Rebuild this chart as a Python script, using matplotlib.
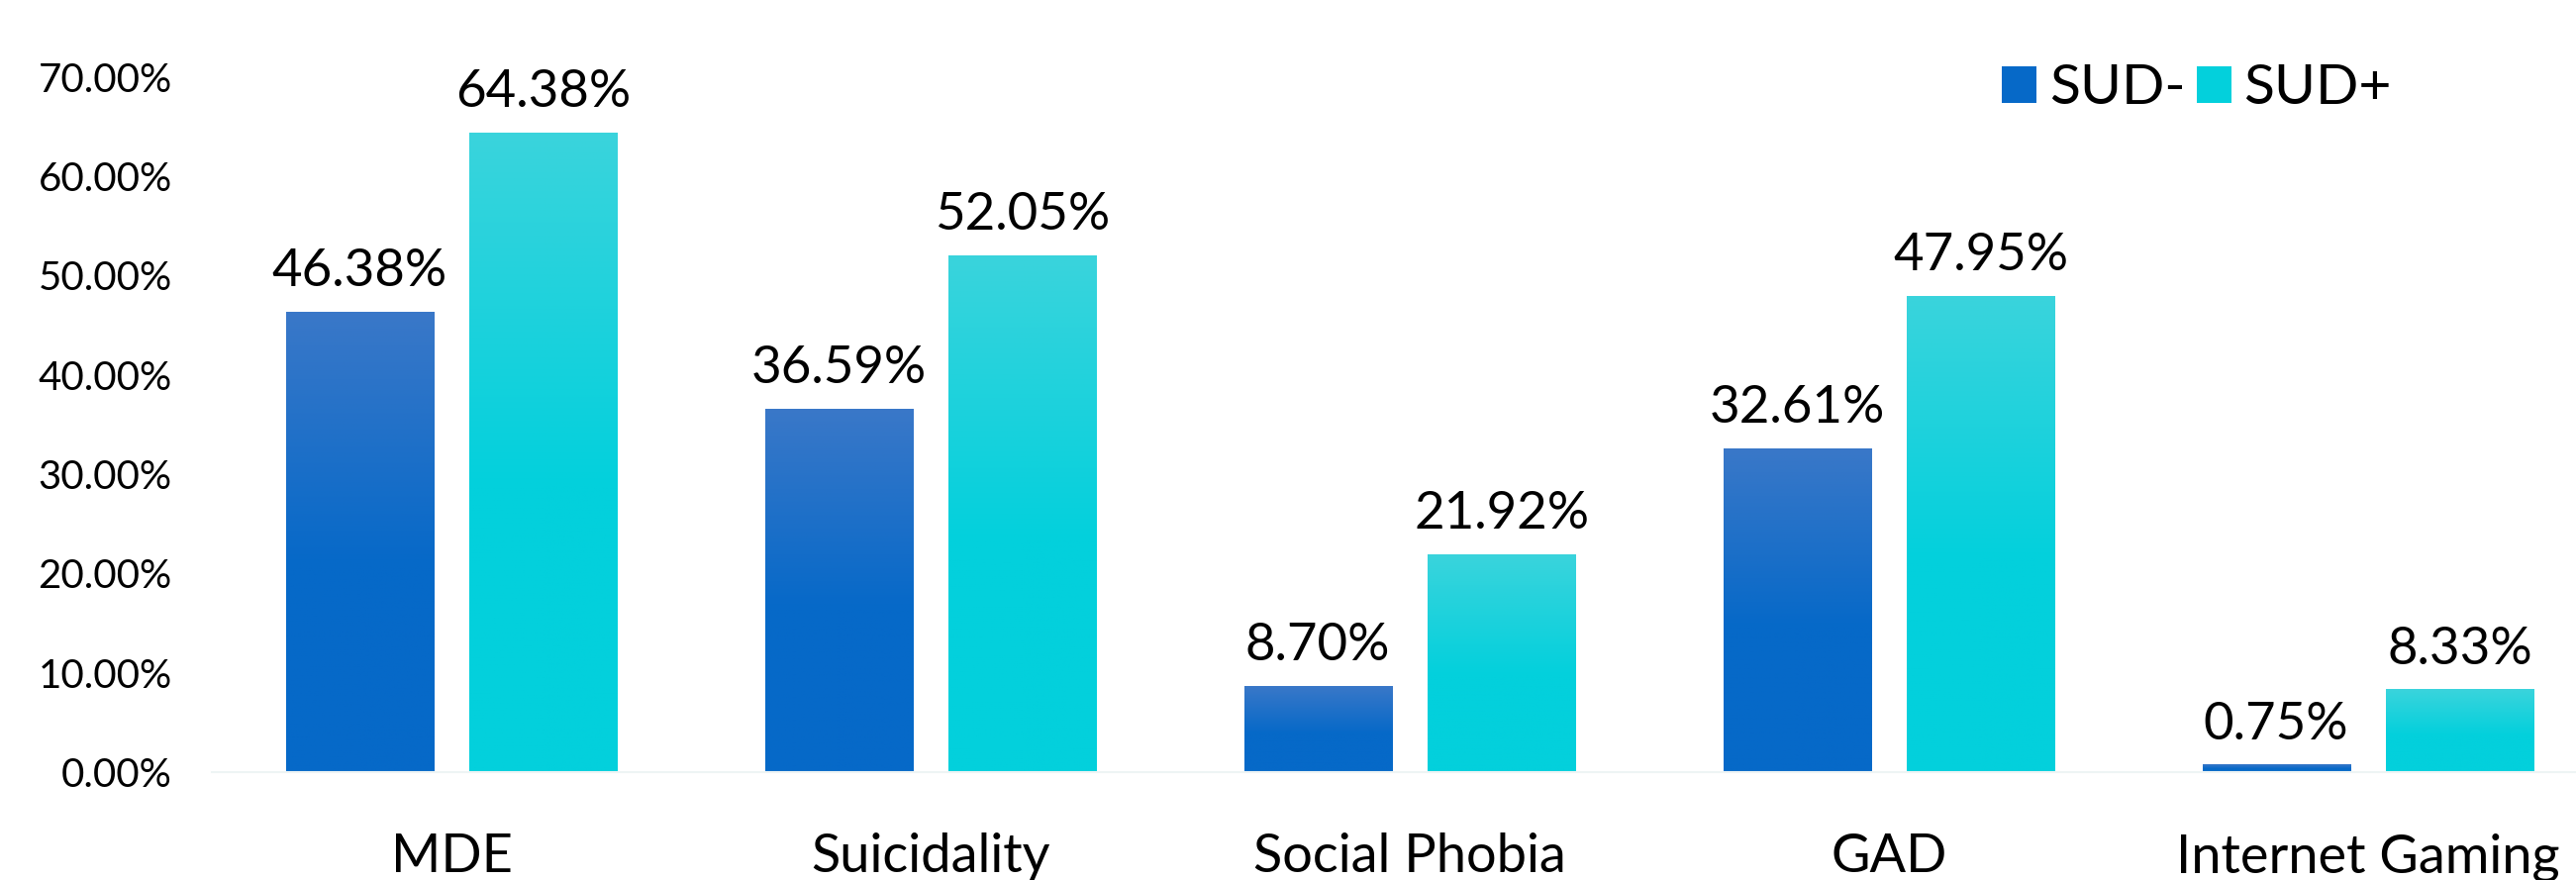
import numpy as np
import matplotlib
matplotlib.use('Agg')
import matplotlib.pyplot as plt
from matplotlib.colors import LinearSegmentedColormap
from matplotlib.patches import Patch
from matplotlib.ticker import FuncFormatter

plt.rcParams['font.family'] = ['Lato', 'DejaVu Sans']

# datos
categorias = ['MDE', 'Suicidality', 'Social Phobia', 'GAD', 'Internet Gaming']
sud_neg = [46.38, 36.59, 8.70, 32.61, 0.75]
sud_pos = [64.38, 52.05, 21.92, 47.95, 8.33]
series = ['SUD-', 'SUD+']

# colores (arriba claro, abajo oscuro)
azul = ('#3a78c8', '#0669c8')
cian = ('#3ad4dc', '#03d0dc')

fig = plt.figure(figsize=(26.02, 8.89), dpi=100)
ax = fig.add_axes([214 / 2602, 0.1226, 2420 / 2602, 0.79])

x = np.arange(len(categorias))
ancho = 0.308
sep = 0.192

grad = np.linspace(0, 1, 256).reshape(-1, 1)

for vals, off, (top, bot) in [(sud_neg, -sep, azul), (sud_pos, sep, cian)]:
    vals = np.array(vals) / 100
    barras = ax.bar(x + off, vals, ancho, color='none', edgecolor='none')
    cmap = LinearSegmentedColormap.from_list('g', [(0, bot), (0.45, bot), (1, top)])
    for b, v in zip(barras, vals):
        x0 = b.get_x()
        im = ax.imshow(grad, extent=[x0, x0 + ancho, 0, v], origin='lower',
                       aspect='auto', cmap=cmap, zorder=2)
        im.set_clip_path(b)
        ax.annotate(f'{v * 100:.2f}%', (x0 + ancho / 2, v), xytext=(0, 12),
                    textcoords='offset points', ha='center', va='bottom',
                    fontsize=38, annotation_clip=False)

ax.set_xlim(-0.5, 4.5)
ax.set_ylim(0, 0.70)
ax.set_yticks(np.arange(0, 0.71, 0.1))
ax.yaxis.set_major_formatter(FuncFormatter(lambda v, p: f'{v * 100:.2f}%'))
ax.set_xticks(x)
ax.set_xticklabels(categorias, fontsize=39)
ax.tick_params(axis='y', labelsize=29, length=0, pad=29)
ax.tick_params(axis='x', length=0, pad=44)

for s in ['top', 'right', 'left']:
    ax.spines[s].set_visible(False)
ax.spines['bottom'].set_color('#eef4f4')
ax.spines['bottom'].set_linewidth(1.5)

handles = [Patch(facecolor=azul[1], label=series[0]),
           Patch(facecolor=cian[1], label=series[1])]
fig.legend(handles=handles, loc='center left', bbox_to_anchor=(2022 / 2602, 0.899),
           ncol=2, frameon=False, fontsize=41, handlelength=0.62, handleheight=0.62,
           handletextpad=0.22, columnspacing=0.2, borderpad=0, borderaxespad=0)

fig.savefig('out.png', dpi=100)
